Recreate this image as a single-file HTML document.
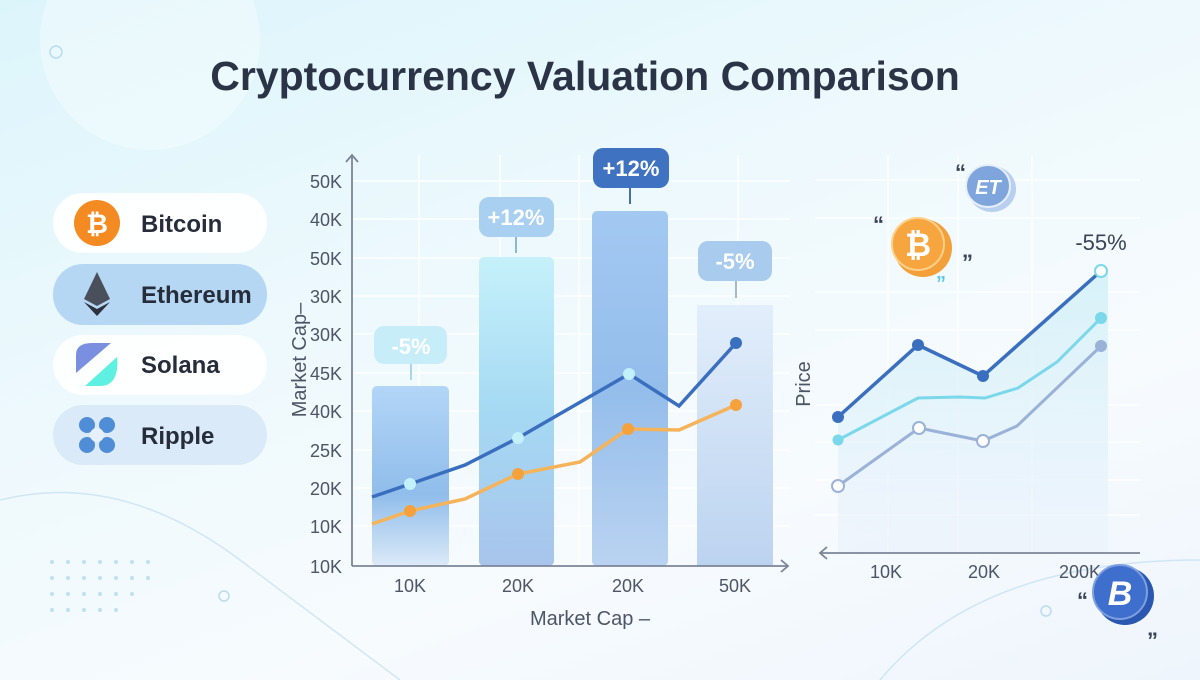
<!DOCTYPE html>
<html><head><meta charset="utf-8"><style>
html,body{margin:0;padding:0}
body{width:1200px;height:680px;overflow:hidden;background:linear-gradient(160deg,#dcf5fb 0%,#eef9fd 40%,#f7fbfe 70%,#eef5fc 100%);font-family:"Liberation Sans","DejaVu Sans",sans-serif}
</style></head><body>
<svg width="1200" height="680" viewBox="0 0 1200 680" xmlns="http://www.w3.org/2000/svg" style="position:absolute;left:0;top:0">
<defs>
<linearGradient id="b1" x1="0" y1="0" x2="0" y2="1"><stop offset="0" stop-color="#b3d6f7"/><stop offset="0.6" stop-color="#90bdeb"/><stop offset="1" stop-color="#dceaf8"/></linearGradient>
<linearGradient id="b2" x1="0" y1="0" x2="0" y2="1"><stop offset="0" stop-color="#c6f1fa"/><stop offset="0.5" stop-color="#a5d9f3"/><stop offset="1" stop-color="#a8c4ec"/></linearGradient>
<linearGradient id="b3" x1="0" y1="0" x2="0" y2="1"><stop offset="0" stop-color="#a3c9f2"/><stop offset="0.5" stop-color="#94bdeb"/><stop offset="1" stop-color="#bad3f1"/></linearGradient>
<linearGradient id="b4" x1="0" y1="0" x2="0" y2="1"><stop offset="0" stop-color="#e2eefb"/><stop offset="1" stop-color="#bcd3f0"/></linearGradient>
<linearGradient id="ar" x1="0" y1="0" x2="0" y2="1"><stop offset="0" stop-color="#d4f1f8" stop-opacity="0.9"/><stop offset="1" stop-color="#e8f0fb" stop-opacity="0.5"/></linearGradient>
</defs>
<circle cx="150" cy="40" r="110" fill="#ffffff" opacity="0.35"/>
<path d="M0 500 Q120 470 240 560 T400 680" fill="none" stroke="#cfe6f4" stroke-width="1.5"/>
<path d="M880 680 Q980 560 1200 560" fill="none" stroke="#cfe6f4" stroke-width="1.5"/>
<circle cx="56" cy="52" r="6" fill="none" stroke="#b9dcee" stroke-width="1.5"/>
<circle cx="224" cy="596" r="5" fill="none" stroke="#b9dcee" stroke-width="1.5"/>
<circle cx="1046" cy="611" r="5" fill="none" stroke="#b9dcee" stroke-width="1.5"/>
<g fill="#bfe0f0">
<circle cx="52" cy="562" r="2"/><circle cx="68" cy="562" r="2"/><circle cx="84" cy="562" r="2"/><circle cx="100" cy="562" r="2"/><circle cx="116" cy="562" r="2"/><circle cx="132" cy="562" r="2"/><circle cx="148" cy="562" r="2"/>
<circle cx="52" cy="578" r="2"/><circle cx="68" cy="578" r="2"/><circle cx="84" cy="578" r="2"/><circle cx="100" cy="578" r="2"/><circle cx="116" cy="578" r="2"/><circle cx="132" cy="578" r="2"/><circle cx="148" cy="578" r="2"/>
<circle cx="52" cy="594" r="2"/><circle cx="68" cy="594" r="2"/><circle cx="84" cy="594" r="2"/><circle cx="100" cy="594" r="2"/><circle cx="116" cy="594" r="2"/><circle cx="132" cy="594" r="2"/>
<circle cx="52" cy="610" r="2"/><circle cx="68" cy="610" r="2"/><circle cx="84" cy="610" r="2"/><circle cx="100" cy="610" r="2"/><circle cx="116" cy="610" r="2"/>
</g>
<text x="585" y="90" text-anchor="middle" font-size="41" font-weight="bold" fill="#2b3446">Cryptocurrency Valuation Comparison</text>

<!-- legend -->
<rect x="53" y="193" width="214" height="60" rx="30" fill="#ffffff" opacity="0.95"/>
<rect x="53" y="264" width="214" height="61" rx="30" fill="#b5d7f4"/>
<rect x="53" y="335" width="214" height="60" rx="30" fill="#ffffff" opacity="0.9"/>
<rect x="53" y="405" width="214" height="60" rx="30" fill="#dbeaf8"/>
<circle cx="97" cy="223" r="23" fill="#f48a22"/>
<text x="97" y="233" text-anchor="middle" font-size="27" font-weight="bold" fill="#fff">₿</text>
<polygon points="97,272 110,299 97,306 84,299" fill="#4a4f5c"/>
<polygon points="97,309 110,302 97,316 84,302" fill="#2d323c"/>
<path d="M76 355 Q76 343 92 343 L111 343 L76 373 Z" fill="#7b8fe0"/>
<path d="M117 355 Q120 386 100 386 L85 386 L117 357 Z" fill="#5ef0e0"/>
<g fill="#4f8ed6"><circle cx="87" cy="425" r="8"/><circle cx="107" cy="425" r="8"/><circle cx="87" cy="445" r="8"/><circle cx="107" cy="445" r="8"/></g>
<circle cx="97" cy="435" r="7" fill="#e6f0fa"/>
<g font-size="24" font-weight="bold" fill="#262c3a">
<text x="141" y="232">Bitcoin</text><text x="141" y="303">Ethereum</text><text x="141" y="373">Solana</text><text x="141" y="444">Ripple</text></g>

<!-- main grid -->
<g stroke="#ffffff" stroke-width="1.5" opacity="0.9">
<line x1="352" y1="181" x2="790" y2="181"/><line x1="352" y1="219" x2="790" y2="219"/><line x1="352" y1="258" x2="790" y2="258"/><line x1="352" y1="296" x2="790" y2="296"/><line x1="352" y1="334" x2="790" y2="334"/><line x1="352" y1="373" x2="790" y2="373"/><line x1="352" y1="411" x2="790" y2="411"/><line x1="352" y1="450" x2="790" y2="450"/><line x1="352" y1="488" x2="790" y2="488"/><line x1="352" y1="526" x2="790" y2="526"/>
<line x1="419" y1="155" x2="419" y2="566"/><line x1="500" y1="155" x2="500" y2="566"/><line x1="579" y1="155" x2="579" y2="566"/><line x1="738" y1="155" x2="738" y2="566"/>
</g>
<rect x="372" y="386" width="77" height="180" rx="5" fill="url(#b1)"/>
<rect x="479" y="257" width="75" height="309" rx="5" fill="url(#b2)"/>
<rect x="592" y="211" width="76" height="355" rx="5" fill="url(#b3)"/>
<rect x="697" y="305" width="76" height="261" fill="url(#b4)"/>
<!-- labels -->
<line x1="411" y1="364" x2="411" y2="380" stroke="#a9d6ea" stroke-width="2"/>
<rect x="374" y="326" width="73" height="38" rx="10" fill="#c7eef8"/>
<text x="411" y="354" text-anchor="middle" font-size="22" font-weight="bold" fill="#ffffff">-5%</text>
<line x1="516" y1="237" x2="516" y2="253" stroke="#8bb7dc" stroke-width="2"/>
<rect x="479" y="197" width="75" height="40" rx="10" fill="#a9d0f0"/>
<text x="516" y="225" text-anchor="middle" font-size="22" font-weight="bold" fill="#ffffff">+12%</text>
<line x1="630" y1="188" x2="630" y2="204" stroke="#4a6fa8" stroke-width="2"/>
<rect x="593" y="148" width="76" height="40" rx="10" fill="#3f72c0"/>
<text x="631" y="176" text-anchor="middle" font-size="22" font-weight="bold" fill="#ffffff">+12%</text>
<line x1="736" y1="281" x2="736" y2="298" stroke="#9dbad8" stroke-width="2"/>
<rect x="698" y="241" width="74" height="40" rx="10" fill="#a8cbee"/>
<text x="735" y="269" text-anchor="middle" font-size="22" font-weight="bold" fill="#ffffff">-5%</text>
<!-- lines -->
<polyline points="372,497 410,484 465,465 518,438 629,374 679,406 736,343" fill="none" stroke="#3a6fbf" stroke-width="3.5"/>
<polyline points="372,524 410,511 465,499 518,474 580,462 628,429 679,430 736,405" fill="none" stroke="#f5b35a" stroke-width="3.5"/>
<circle cx="410" cy="484" r="6" fill="#c2f0fb"/><circle cx="518" cy="438" r="6" fill="#c2f0fb"/><circle cx="629" cy="374" r="6" fill="#c2f0fb"/><circle cx="736" cy="343" r="6" fill="#3a6fbf"/>
<circle cx="410" cy="511" r="6" fill="#f5a13c"/><circle cx="518" cy="474" r="6" fill="#f5a13c"/><circle cx="628" cy="429" r="6" fill="#f5a13c"/><circle cx="736" cy="405" r="6" fill="#f5a13c"/>
<!-- axes -->
<g stroke="#7b8598" stroke-width="1.8" fill="none">
<line x1="352" y1="155" x2="352" y2="566"/><polyline points="346,162 352,155 358,162"/>
<line x1="352" y1="566" x2="788" y2="566"/><polyline points="781,560 788,566 781,572"/>
</g>
<g font-size="18" fill="#4d5566" text-anchor="end">
<text x="342" y="188">50K</text><text x="342" y="226">40K</text><text x="342" y="265">50K</text><text x="342" y="303">30K</text><text x="342" y="341">30K</text><text x="342" y="380">45K</text><text x="342" y="418">40K</text><text x="342" y="457">25K</text><text x="342" y="495">20K</text><text x="342" y="533">10K</text><text x="342" y="573">10K</text></g>
<g font-size="18" fill="#4d5566" text-anchor="middle">
<text x="410" y="592">10K</text><text x="518" y="592">20K</text><text x="628" y="592">20K</text><text x="735" y="592">50K</text></g>
<text x="590" y="625" text-anchor="middle" font-size="20" fill="#4d5566">Market Cap –</text>
<text transform="translate(306,360) rotate(-90)" text-anchor="middle" font-size="20" fill="#4d5566">Market Cap–</text>

<!-- right chart -->
<g stroke="#ffffff" stroke-width="1.5" opacity="0.9">
<line x1="815" y1="180" x2="1140" y2="180"/><line x1="815" y1="218" x2="1140" y2="218"/><line x1="815" y1="292" x2="1140" y2="292"/><line x1="815" y1="330" x2="1140" y2="330"/><line x1="815" y1="405" x2="1140" y2="405"/><line x1="815" y1="442" x2="1140" y2="442"/><line x1="815" y1="480" x2="1140" y2="480"/><line x1="815" y1="515" x2="1140" y2="515"/>
<line x1="888" y1="155" x2="888" y2="553"/><line x1="958" y1="155" x2="958" y2="553"/><line x1="1032" y1="155" x2="1032" y2="553"/>
</g>
<polygon points="838,417 918,345 983,376 1101,271 1108,271 1108,553 838,553" fill="url(#ar)"/>
<polyline points="838,417 918,345 983,376 1101,271" fill="none" stroke="#3a6fbf" stroke-width="3.5"/>
<polyline points="838,440 918,398 960,397 985,398 1018,388 1057,362 1101,318" fill="none" stroke="#7ad8ea" stroke-width="3"/>
<polyline points="838,486 919,428 983,441 1017,426 1101,346" fill="none" stroke="#9ab1d8" stroke-width="3"/>
<circle cx="838" cy="417" r="6" fill="#3a6fbf"/><circle cx="918" cy="345" r="6" fill="#3a6fbf"/><circle cx="983" cy="376" r="6" fill="#3a6fbf"/><circle cx="1101" cy="271" r="6" fill="#fff" stroke="#7ad8ea" stroke-width="2"/>
<circle cx="838" cy="440" r="5.5" fill="#7ad8ea"/><circle cx="1101" cy="318" r="6" fill="#7ad8ea"/>
<circle cx="838" cy="486" r="6" fill="#fff" stroke="#9ab1d8" stroke-width="2"/><circle cx="919" cy="428" r="6" fill="#fff" stroke="#9ab1d8" stroke-width="2"/><circle cx="983" cy="441" r="6" fill="#fff" stroke="#9ab1d8" stroke-width="2"/><circle cx="1101" cy="346" r="6" fill="#9ab1d8"/>
<g stroke="#7b8598" stroke-width="1.8" fill="none"><line x1="820" y1="553" x2="1140" y2="553"/><polyline points="827,547 820,553 827,559"/></g>
<text x="1101" y="250" text-anchor="middle" font-size="22" fill="#3b4456">-55%</text>
<text transform="translate(810,384) rotate(-90)" text-anchor="middle" font-size="20" fill="#4d5566">Price</text>
<g font-size="18" fill="#4d5566" text-anchor="middle"><text x="886" y="578">10K</text><text x="984" y="578">20K</text><text x="1080" y="578">200K</text></g>
<!-- coins -->
<ellipse cx="992" cy="189" rx="24" ry="23" fill="#b8cff0"/>
<ellipse cx="988" cy="186" rx="22" ry="21" fill="#7fa5dd" stroke="#e6eef9" stroke-width="2"/>
<text x="988" y="194" text-anchor="middle" font-size="20" font-weight="bold" font-style="italic" fill="#fff">ET</text>
<circle cx="923" cy="248" r="29" fill="#f3a03a"/>
<circle cx="918" cy="244" r="26" fill="#f7a53f" stroke="#fcd08a" stroke-width="2"/>
<text x="918" y="256" text-anchor="middle" font-size="32" font-weight="bold" fill="#fff">₿</text>
<circle cx="1125" cy="596" r="29" fill="#2a57b0"/>
<circle cx="1120" cy="592" r="27" fill="#3f6fcc" stroke="#7fa0e0" stroke-width="2"/>
<text x="1120" y="605" text-anchor="middle" font-size="34" font-weight="bold" font-style="italic" fill="#fff">B</text>
<g font-size="22" font-weight="bold" fill="#3b4456">
<text x="955" y="180">“</text><text x="873" y="232">“</text><text x="962" y="270">”</text><text x="1077" y="608">“</text><text x="1147" y="648">”</text></g>
<text x="936" y="290" font-size="20" font-weight="bold" fill="#5ec8e6">”</text>
</svg>
</body></html>
